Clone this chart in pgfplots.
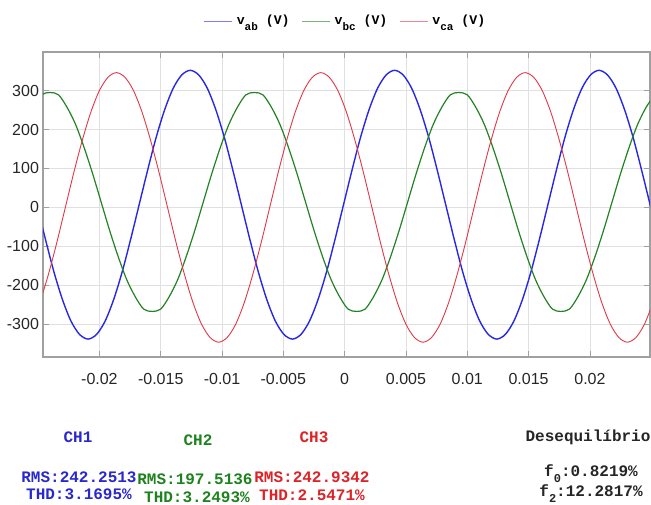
\documentclass[border=0pt]{standalone}
\usepackage{fontspec}
\setmainfont{Liberation Sans}
\newfontfamily\mono{Liberation Mono}
\usepackage{pgfplots}
\usepackage{pgfplotstable}
\pgfplotsset{compat=1.18}

\definecolor{vab}{RGB}{40,40,228}
\definecolor{vbc}{RGB}{35,130,35}
\definecolor{vca}{RGB}{225,55,70}
\definecolor{tblue}{RGB}{40,40,205}
\definecolor{tgreen}{RGB}{30,130,30}
\definecolor{tred}{RGB}{220,35,40}
\definecolor{gridc}{RGB}{224,224,224}
\definecolor{framec}{RGB}{160,160,160}

% line voltages sampled every 15 degrees of the 60 Hz cycle
\pgfplotstableread{
t v
-0.025093 7
-0.024398 -82
-0.023704 -166
-0.023009 -237
-0.022315 -292
-0.021620 -326
-0.020926 -338
-0.020231 -326
-0.019537 -292
-0.018843 -237
-0.018148 -166
-0.017454 -82
-0.016759 7
-0.016065 96
-0.015370 180
-0.014676 251
-0.013981 306
-0.013287 340
-0.012593 352
-0.011898 340
-0.011204 306
-0.010509 251
-0.009815 180
-0.009120 96
-0.008426 7
-0.007731 -82
-0.007037 -166
-0.006343 -237
-0.005648 -292
-0.004954 -326
-0.004259 -338
-0.003565 -326
-0.002870 -292
-0.002176 -237
-0.001481 -166
-0.000787 -82
-0.000093 7
0.000602 96
0.001296 180
0.001991 251
0.002685 306
0.003380 340
0.004074 352
0.004769 340
0.005463 306
0.006157 251
0.006852 180
0.007546 96
0.008241 7
0.008935 -82
0.009630 -166
0.010324 -237
0.011019 -292
0.011713 -326
0.012407 -338
0.013102 -326
0.013796 -292
0.014491 -237
0.015185 -166
0.015880 -82
0.016574 7
0.017269 96
0.017963 180
0.018657 251
0.019352 306
0.020046 340
0.020741 352
0.021435 340
0.022130 306
0.022824 251
0.023519 180
0.024213 96
0.024907 7
0.025602 -82
}\tabvab

\pgfplotstableread{
t v
-0.025417 257
-0.024722 289
-0.024028 295
-0.023333 289
-0.022639 257
-0.021944 213
-0.021250 154
-0.020556 87
-0.019861 14
-0.019167 -59
-0.018472 -126
-0.017778 -185
-0.017083 -229
-0.016389 -261
-0.015694 -267
-0.015000 -261
-0.014306 -229
-0.013611 -185
-0.012917 -126
-0.012222 -59
-0.011528 14
-0.010833 87
-0.010139 154
-0.009444 213
-0.008750 257
-0.008056 289
-0.007361 295
-0.006667 289
-0.005972 257
-0.005278 213
-0.004583 154
-0.003889 87
-0.003194 14
-0.002500 -59
-0.001806 -126
-0.001111 -185
-0.000417 -229
0.000278 -261
0.000972 -267
0.001667 -261
0.002361 -229
0.003056 -185
0.003750 -126
0.004444 -59
0.005139 14
0.005833 87
0.006528 154
0.007222 213
0.007917 257
0.008611 289
0.009306 295
0.010000 289
0.010694 257
0.011389 213
0.012083 154
0.012778 87
0.013472 14
0.014167 -59
0.014861 -126
0.015556 -185
0.016250 -229
0.016944 -261
0.017639 -267
0.018333 -261
0.019028 -229
0.019722 -185
0.020417 -126
0.021111 -59
0.021806 14
0.022500 87
0.023194 154
0.023889 213
0.024583 257
0.025278 289
}\tabvbc

\pgfplotstableread{
t v
-0.024861 -245
-0.024167 -173
-0.023472 -90
-0.022778 0
-0.022083 90
-0.021389 173
-0.020694 245
-0.020000 300
-0.019306 334
-0.018611 346
-0.017917 334
-0.017222 300
-0.016528 245
-0.015833 173
-0.015139 90
-0.014444 0
-0.013750 -90
-0.013056 -173
-0.012361 -245
-0.011667 -300
-0.010972 -334
-0.010278 -346
-0.009583 -334
-0.008889 -300
-0.008194 -245
-0.007500 -173
-0.006806 -90
-0.006111 0
-0.005417 90
-0.004722 173
-0.004028 245
-0.003333 300
-0.002639 334
-0.001944 346
-0.001250 334
-0.000556 300
0.000139 245
0.000833 173
0.001528 90
0.002222 0
0.002917 -90
0.003611 -173
0.004306 -245
0.005000 -300
0.005694 -334
0.006389 -346
0.007083 -334
0.007778 -300
0.008472 -245
0.009167 -173
0.009861 -90
0.010556 0
0.011250 90
0.011944 173
0.012639 245
0.013333 300
0.014028 334
0.014722 346
0.015417 334
0.016111 300
0.016806 245
0.017500 173
0.018194 90
0.018889 0
0.019583 -90
0.020278 -173
0.020972 -245
0.021667 -300
0.022361 -334
0.023056 -346
0.023750 -334
0.024444 -300
0.025139 -245
}\tabvca

\begin{document}
\begin{tikzpicture}[x=0.5pt,y=0.5pt]
\path[use as bounding box] (0,0) rectangle (651,504);
\begin{axis}[
  at={(21.5pt,73.5pt)}, anchor=south west,
  scale only axis, width=303.5pt, height=152.5pt,
  xmin=-0.0246, xmax=0.0249, ymin=-384, ymax=399,
  xtick={-0.02,-0.015,-0.01,-0.005,0,0.005,0.01,0.015,0.02},
  xticklabels={-0.02,-0.015,-0.01,-0.005,0,0.005,0.01,0.015,0.02},
  ytick={-300,-200,-100,0,100,200,300},
  yticklabels={-300,-200,-100,0,100,200,300},
  scaled x ticks=false,
  tick label style={font=\fontsize{8}{9}\selectfont, text=black!85},
  xticklabel style={yshift=-4.5pt},
  yticklabel style={xshift=1.5pt},
  grid=major, major grid style={gridc, line width=0.4pt},
  axis line style={framec, line width=0.6pt},
  major tick style={framec, line width=0.4pt},
  tick align=inside, major tick length=3pt,
  clip=true,
  legend style={at={(0.5,1)}, anchor=south, yshift=8pt, draw=none, fill=none,
    font=\mono\bfseries\fontsize{6.6}{7.5}\selectfont, legend columns=3,
    /tikz/every even column/.append style={column sep=4pt}},
  legend image code/.code={\draw[#1, opacity=0.6, line width=0.5pt] (0pt,0pt) -- (14pt,0pt);},
]
\addplot[vab, line width=0.7pt, smooth, no marks] table[x=t, y=v] {\tabvab};
\addlegendentry{v\raisebox{-0.8ex}{\fontsize{5.5}{6}\selectfont ab} (V)}
\addplot[vbc, line width=0.6pt, smooth, no marks] table[x=t, y=v] {\tabvbc};
\addlegendentry{v\raisebox{-0.8ex}{\fontsize{5.5}{6}\selectfont bc} (V)}
\addplot[vca, line width=0.45pt, smooth, no marks] table[x=t, y=v] {\tabvca};
\addlegendentry{v\raisebox{-0.8ex}{\fontsize{5.5}{6}\selectfont ca} (V)}
\end{axis}

% channel summary below the plot
\begin{scope}[every node/.style={font=\mono\bfseries\fontsize{8}{9}\selectfont, inner sep=0pt}]
\node[tblue]  at (78,67) {CH1};
\node[tgreen] at (198,64) {CH2};
\node[tred]   at (314,67) {CH3};
\node[black!85] at (588,67) {Desequilíbrio};
\node[tblue]  at (79,27) {RMS:242.2513};
\node[tblue]  at (79,10) {THD:3.1695\%};
\node[tgreen] at (195,25) {RMS:197.5136};
\node[tgreen] at (197,7) {THD:3.2493\%};
\node[tred]   at (312,27) {RMS:242.9342};
\node[tred]   at (312,9) {THD:2.5471\%};
\node[black!85] at (591,30) {f\raisebox{-0.7ex}{\fontsize{6}{7}\selectfont 0}:0.8219\%};
\node[black!85] at (591,10) {f\raisebox{-0.7ex}{\fontsize{6}{7}\selectfont 2}:12.2817\%};
\end{scope}
\end{tikzpicture}
\end{document}
